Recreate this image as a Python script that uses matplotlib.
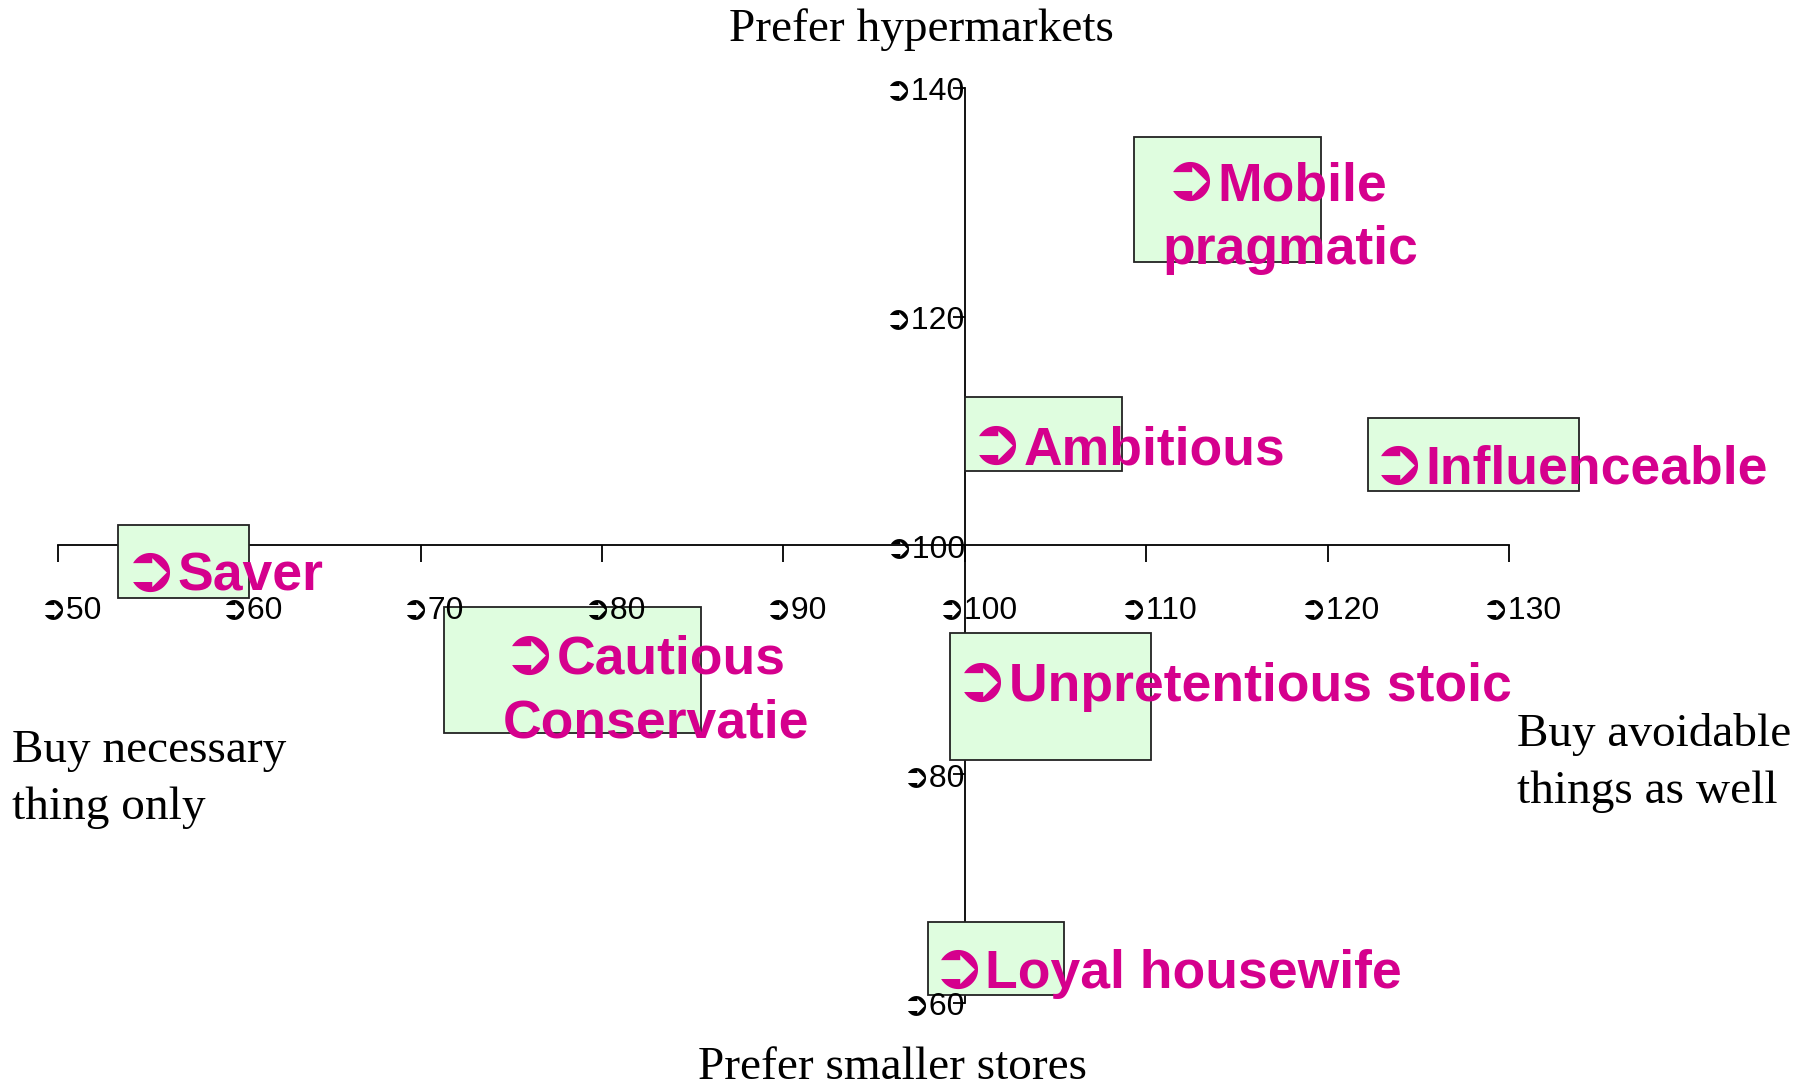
import matplotlib
matplotlib.use("Agg")
import matplotlib.pyplot as plt
import matplotlib.transforms as mtransforms
from matplotlib.patches import Rectangle

# ---- data ----
bullet = "➲"
segments = ["Mobile\npragmatic", "Ambitious", "Influenceable", "Saver",
            "Cautious\nConservatie", "Unpretentious stoic", "Loyal housewife"]
box_x0 = [109.31, 100.00, 122.21, 53.32, 71.26, 99.16, 97.95]
box_x1 = [119.66, 108.68, 133.89, 60.53, 85.43, 110.27, 105.48]
box_y0 = [124.81, 106.48, 104.76, 95.44, 83.59, 81.27, 60.71]
box_y1 = [135.75, 112.96, 111.14, 101.82, 94.63, 92.30, 67.09]
label_x = [110.90, 100.25, 122.40, 53.56, 74.50, 99.42, 98.12]
label_y = [130.20, 107.09, 105.37, 96.05, 88.76, 86.43, 61.32]

x_ticks = [50, 60, 70, 80, 90, 100, 110, 120, 130]
x_tick_labels = ["➲50", "➲60", "➲70", "➲80", "➲90", "➲100", "➲110", "➲120", "➲130"]
y_ticks = [60, 80, 100, 120, 140]
y_tick_labels = ["➲60", "➲80", "➲100", "➲120", "➲140"]

title_top = "Prefer hypermarkets"
title_bottom = "Prefer smaller stores"
title_left = "Buy necessary\nthing only"
title_right = "Buy avoidable\nthings as well"

magenta = "#D5008D"
box_fill = "#DFFDDF"
sans = ["Liberation Sans", "DejaVu Sans"]
serif = ["Liberation Serif", "DejaVu Serif"]
label_size = 38.5
bullet_scale = 1.22
line_gap_px = 64

W, H = 1816, 1087
fig = plt.figure(figsize=(W / 100, H / 100), dpi=100)
fig.patch.set_facecolor("white")
pos = [57.9 / W, (H - 1002.8) / H, 1451.0 / W, 914.8 / H]
XL, YL = (50, 130), (60, 140)

# axes with spines + tick marks (below boxes)
ax = fig.add_axes(pos)
ax.set_zorder(1)
ax.set_xlim(*XL)
ax.set_ylim(*YL)
ax.set_facecolor("none")
for s in ["top", "right"]:
    ax.spines[s].set_visible(False)
ax.spines["left"].set_position(("data", 100))
ax.spines["bottom"].set_position(("data", 100))
for s in ["left", "bottom"]:
    ax.spines[s].set_linewidth(1.3)
ax.set_xticks(x_ticks)
ax.set_yticks(y_ticks)
ax.tick_params(axis="x", direction="out", length=12, width=1.3, labelbottom=False)
ax.tick_params(axis="y", direction="out", length=8.6, width=1.3, labelleft=False)

# boxes and labels
bx = fig.add_axes(pos)
bx.set_zorder(2)
bx.set_xlim(*XL)
bx.set_ylim(*YL)
bx.set_facecolor("none")
bx.axis("off")
fig.canvas.draw()
renderer = fig.canvas.get_renderer()
for i in range(len(segments)):
    r = Rectangle((box_x0[i], box_y0[i]), box_x1[i] - box_x0[i], box_y1[i] - box_y0[i],
                  facecolor=box_fill, edgecolor="#222222", linewidth=1.3,
                  zorder=3, clip_on=False)
    bx.add_patch(r)
    b = bx.text(label_x[i], label_y[i], bullet, color=magenta,
                fontsize=label_size * bullet_scale, fontfamily="DejaVu Sans",
                fontweight="bold", ha="left", va="baseline", zorder=4, clip_on=False)
    bw = b.get_window_extent(renderer).width
    lines = segments[i].split("\n")
    for j, line in enumerate(lines):
        dx = bw if j == 0 else 0
        tr = bx.transData + mtransforms.ScaledTranslation(
            dx / 100, -j * line_gap_px / 100, fig.dpi_scale_trans)
        bx.text(label_x[i], label_y[i], line, color=magenta, fontsize=label_size,
                fontweight="bold", fontfamily=sans, ha="left", va="baseline",
                zorder=4, clip_on=False, transform=tr)

# tick labels on top
tx = fig.add_axes(pos)
tx.set_zorder(3)
tx.set_xlim(*XL)
tx.set_ylim(*YL)
tx.set_facecolor("none")
for s in tx.spines.values():
    s.set_visible(False)
tx.spines["left"].set_position(("data", 100))
tx.spines["bottom"].set_position(("data", 100))
tx.set_xticks(x_ticks)
tx.set_xticklabels(x_tick_labels, fontfamily=sans, fontsize=23)
tx.set_yticks(y_ticks)
tx.set_yticklabels(y_tick_labels, fontfamily=sans, fontsize=23)
tx.tick_params(axis="x", length=0, pad=36)
tx.tick_params(axis="y", length=0, pad=0)
offset = mtransforms.ScaledTranslation(0.12, 0, fig.dpi_scale_trans)
for lab in tx.get_xticklabels():
    lab.set_transform(lab.get_transform() + offset)

fig.text(921 / W, 1 - 30 / H, title_top, fontfamily=serif, fontsize=34,
         ha="center", va="center")
fig.text(892 / W, 1 - 1079 / H, title_bottom, fontfamily=serif, fontsize=34,
         ha="center", va="baseline")
fig.text(11.6 / W, 1 - 779 / H, title_left, fontfamily=serif, fontsize=34,
         ha="left", va="center", linespacing=1.45)
fig.text(1517 / W, 1 - 763 / H, title_right, fontfamily=serif, fontsize=34,
         ha="left", va="center", linespacing=1.45)

fig.savefig("out.png", dpi=100, facecolor="white")
